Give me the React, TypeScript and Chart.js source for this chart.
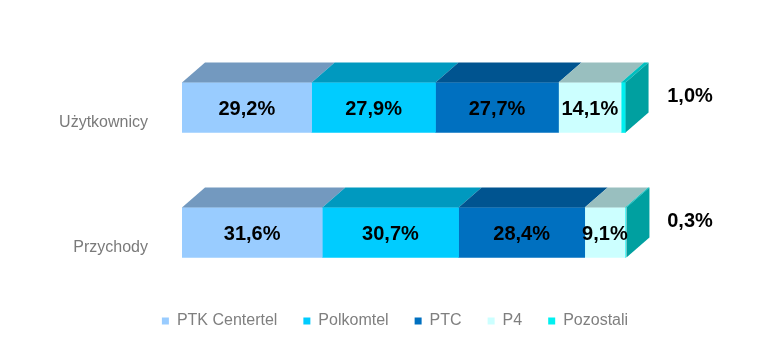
import React, { useEffect, useRef } from "react";
import { Chart, registerables } from "chart.js";

Chart.register(...registerables);

const categories = ["Użytkownicy", "Przychody"];
const seriesNames = ["PTK Centertel", "Polkomtel", "PTC", "P4", "Pozostali"];
const ptkCentertel = [29.2, 31.6];
const polkomtel = [27.9, 30.7];
const ptc = [27.7, 28.4];
const p4 = [14.1, 9.1];
const pozostali = [1.0, 0.3];
const seriesValues = [ptkCentertel, polkomtel, ptc, p4, pozostali];

const frontColors = ["#99CCFF", "#00CCFF", "#0070C0", "#CCFFFF", "#00F0F0"];
const topColors = ["#7399BF", "#0099BF", "#005490", "#99BFBF", "#00BFBF"];
const sideColor = "#00A0A0";

const FONT = "'Liberation Sans', Arial, sans-serif";
const DX = 23;
const DY = 20;

const fmt = (v: number) => v.toFixed(1).replace(".", ",") + "%";

const bar3dPlugin = {
  id: "bar3d",
  afterLayout(chart: any) {
    if (chart.legend) {
      chart.legend.top -= 8;
      chart.legend.bottom -= 8;
    }
  },
  afterDatasetsDraw(chart: any) {
    const ctx = chart.ctx;
    const n = chart.data.datasets.length;
    ctx.save();
    // top faces
    for (let i = 0; i < n; i++) {
      const meta = chart.getDatasetMeta(i);
      meta.data.forEach((el: any) => {
        const p = el.getProps(["x", "base", "y", "height"], true);
        const x0 = Math.min(p.x, p.base);
        const x1 = Math.max(p.x, p.base);
        const top = p.y - p.height / 2;
        ctx.fillStyle = topColors[i];
        ctx.beginPath();
        ctx.moveTo(x0, top);
        ctx.lineTo(x1, top);
        ctx.lineTo(x1 + DX, top - DY);
        ctx.lineTo(x0 + DX, top - DY);
        ctx.closePath();
        ctx.fill();
      });
    }
    // right side face of the last segment
    const lastMeta = chart.getDatasetMeta(n - 1);
    lastMeta.data.forEach((el: any) => {
      const p = el.getProps(["x", "base", "y", "height"], true);
      const x1 = Math.max(p.x, p.base);
      const top = p.y - p.height / 2;
      const bottom = p.y + p.height / 2;
      ctx.fillStyle = sideColor;
      ctx.beginPath();
      ctx.moveTo(x1, top);
      ctx.lineTo(x1 + DX, top - DY);
      ctx.lineTo(x1 + DX, bottom - DY);
      ctx.lineTo(x1, bottom);
      ctx.closePath();
      ctx.fill();
    });
    // labels
    ctx.fillStyle = "#000000";
    ctx.font = "bold 20px " + FONT;
    ctx.textAlign = "center";
    ctx.textBaseline = "middle";
    for (let i = 0; i < n; i++) {
      const meta = chart.getDatasetMeta(i);
      meta.data.forEach((el: any, j: number) => {
        const p = el.getProps(["x", "base", "y", "height"], true);
        const v = chart.data.datasets[i].data[j];
        if (i < n - 1) {
          ctx.fillText(fmt(v), (p.x + p.base) / 2, p.y + 2);
        } else {
          ctx.fillText(fmt(v), chart.chartArea.right + 64, p.y - 11);
        }
      });
    }
    ctx.restore();
  },
};

export default function App() {
  const ref = useRef<HTMLCanvasElement | null>(null);
  useEffect(() => {
    document.body.style.margin = "0";
    if (!ref.current) return;
    const chart = new Chart(ref.current, {
      type: "bar",
      data: {
        labels: categories,
        datasets: seriesNames.map((name, i) => ({
          label: name,
          data: seriesValues[i],
          backgroundColor: frontColors[i],
          borderWidth: 0,
          barThickness: 50,
        })),
      },
      options: {
        indexAxis: "y",
        responsive: false,
        animation: false,
        layout: { padding: { top: 45, left: 18, right: 0, bottom: 9 } },
        scales: {
          x: { type: "linear", min: 0, max: 100, stacked: true, display: false },
          y: {
            type: "category",
            stacked: true,
            position: "left",
            grid: { display: false, drawTicks: false },
            border: { display: false },
            ticks: {
              color: "#7a7a7a",
              font: { family: FONT, size: 16 },
              padding: 34,
              labelOffset: 15,
            },
            afterFit: (s: any) => {
              s.width = 164;
            },
          },
          y2: {
            type: "category",
            labels: categories,
            position: "right",
            grid: { display: false, drawTicks: false },
            border: { display: false },
            ticks: { display: false },
            afterFit: (s: any) => {
              s.width = 146;
            },
          },
        },
        plugins: {
          tooltip: { enabled: false },
          legend: {
            position: "bottom",
            labels: {
              boxWidth: 7,
              boxHeight: 7,
              padding: 26,
              color: "#7f7f7f",
              font: { family: FONT, size: 16 },
            },
          },
        },
      } as any,
      plugins: [bar3dPlugin],
    });
    return () => chart.destroy();
  }, []);
  return (
    <div style={{ width: 772, height: 356 }}>
      <canvas ref={ref} width={772} height={356} />
    </div>
  );
}
